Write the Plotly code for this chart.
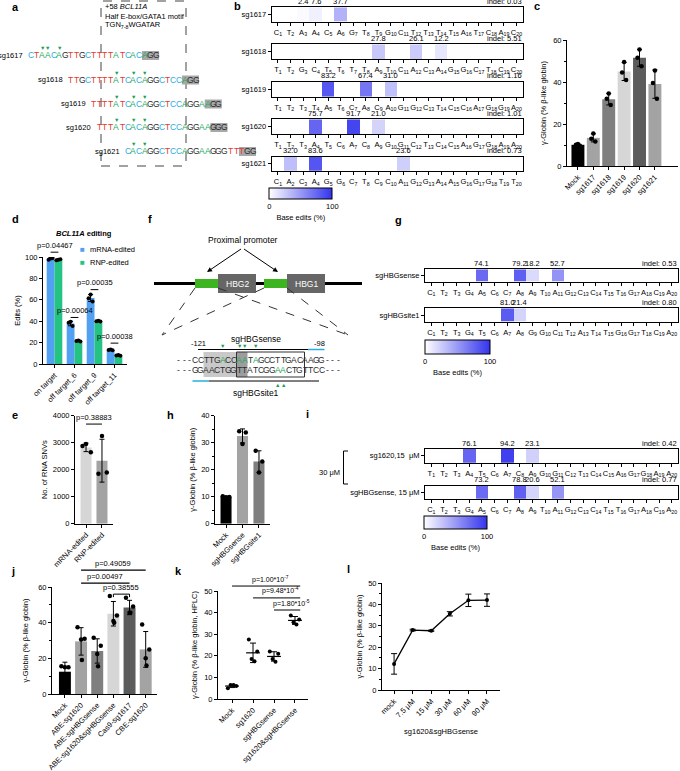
import numpy as np
import plotly.graph_objects as go

W, H = 680, 771
FONT = "Arial, Liberation Sans, sans-serif"

# ── data ────────────────────────────────────────────────────────────────
# a / b : +58 BCL11A guides
A_NAMES = ["sg1617", "sg1618", "sg1619", "sg1620", "sg1621"]
A_SEQS = ["CTAACAGTTGCTTTTATCACAGG", "TTGCTTTTATCACAGGCTCCAGG", "TTTTATCACAGGCTCCAGGAAGG",
          "TTTATCACAGGCTCCAGGAAGGG", "CACAGGCTCCAGGAAGGGTTTGG"]
A_SHIFT = [0, 7, 11, 12, 17]
A_ARROWS = [[3, 4, 6], [9, 12, 14], [5, 8, 10], [4, 7, 9], [2, 4]]

B_EDITS = [
    [0, 0, 2.4, 7.6, 0, 37.7, 0, 0, 0, 0, 0, 0, 0, 0, 0, 0, 0, 0, 0, 0],
    [0, 0, 0, 0, 0, 0, 0, 0, 27.8, 0, 0, 26.1, 0, 12.2, 0, 0, 0, 0, 0, 0],
    [0, 0, 0, 0, 83.2, 0, 0, 67.4, 0, 31.0, 0, 0, 0, 0, 0, 0, 0, 0, 0, 0],
    [0, 0, 0, 75.7, 0, 0, 91.7, 0, 21.0, 0, 0, 0, 0, 0, 0, 0, 0, 0, 0, 0],
    [0, 32.0, 0, 83.6, 0, 0, 0, 0, 0, 0, 23.6, 0, 0, 0, 0, 0, 0, 0, 0, 0],
]
B_INDEL = [0.03, 5.51, 1.16, 1.01, 0.73]

# g : HBG promoter guides
G_NAMES = ["sgHBGsense", "sgHBGsite1"]
G_SEQS = ["CTTGACCAATAGCCTTGACA", "CTTGTCAAGGCTATTGGTCA"]
G_EDITS = [
    [0, 0, 0, 0, 74.1, 0, 0, 79.2, 18.2, 0, 52.7, 0, 0, 0, 0, 0, 0, 0, 0, 0],
    [0, 0, 0, 0, 0, 0, 81.0, 21.4, 0, 0, 0, 0, 0, 0, 0, 0, 0, 0, 0, 0],
]
G_INDEL = [0.53, 0.80]

# i : co-delivery, 15 µM each
I_NAMES = ["sg1620,15  μM", "sgHBGsense, 15 μM"]
I_SEQS = ["TTTATCACAGGCTCCAGGAA", "CTTGACCAATAGCCTTGACA"]
I_EDITS = [
    [0, 0, 0, 76.1, 0, 0, 94.2, 0, 23.1, 0, 0, 0, 0, 0, 0, 0, 0, 0, 0, 0],
    [0, 0, 0, 0, 73.2, 0, 0, 78.8, 20.6, 0, 52.1, 0, 0, 0, 0, 0, 0, 0, 0, 0],
]
I_INDEL = [0.42, 0.77]

# c
C_CATS = ["Mock", "sg1617", "sg1618", "sg1619", "sg1620", "sg1621"]
C_REPS = [[10.5, 10.1, 9.7], [15.5, 13.0, 11.7], [34.5, 32.0, 29.0],
          [49.5, 44.5, 41.0], [55.5, 51.5, 47.5], [45.5, 39.5, 32.0]]
C_COLORS = ["#000000", "#a3a3a3", "#7f7f7f", "#d6d6d6", "#5c5c5c", "#a3a3a3"]

# d
D_CATS = ["on target", "off target_6", "off target_9", "off target_11"]
D_MRNA = [[98.5, 97.5, 99.0], [39.5, 38.5, 35.5], [65.0, 61.5, 58.5], [13.5, 13.0, 12.8]]
D_RNP = [[97.5, 97.0, 98.0], [22.0, 21.5, 21.0], [40.5, 40.0, 39.8], [8.5, 8.0, 7.6]]
D_P = ["p=0.04467", "p=0.00064", "p=0.00035", "p=0.00038"]
D_P_LEVEL = [104.5, 43.5, 69.5, 19.5]

# e
E_CATS = ["mRNA-edited", "RNP-edited"]
E_REPS = [[2950, 2880, 2650], [3250, 1850, 1900]]
E_P, E_P_LEVEL = "p=0.38883", 3690

# h
H_CATS = ["Mock", "sgHBGsense", "sgHBGsite1"]
H_REPS = [[10.2, 9.9, 9.8], [34.2, 33.8, 29.5], [27.0, 23.0, 19.0]]
H_COLORS = ["#000000", "#a3a3a3", "#7f7f7f"]

# j
J_CATS = ["Mock", "ABE-sg1620", "ABE-sgHBGsense", "ABE-sg1620&amp;sgHBGsense", "Cas9-sg1617", "CBE-sg1620"]
J_REPS = [[15.5, 15.0, 15.0, 4.5], [37.5, 31.0, 30.5, 19.0], [31.5, 27.0, 22.5, 15.5],
          [55.0, 44.0, 41.0, 40.0], [54.0, 49.0, 45.5, 45.5], [39.0, 25.0, 20.0, 16.0]]
J_COLORS = ["#000000", "#a3a3a3", "#7f7f7f", "#d6d6d6", "#5c5c5c", "#a3a3a3"]
J_P = ["p=0.49059", "p=0.00497", "p=0.38555"]
J_P_FROM = [1, 1, 3]
J_P_TO = [5, 4, 4]
J_P_LEVEL = [69.5, 62.2, 56.0]

# k
K_CATS = ["Mock", "sg1620", "sgHBGsense", "sg1620&amp;sgHBGsense"]
K_REPS = [[5.0, 6.0, 6.5, 6.5], [27.5, 22.0, 18.5, 17.5], [22.0, 21.0, 18.5, 17.3], [38.7, 36.8, 35.5, 34.5]]
K_P = ["p=1.00*10<sup>-7</sup>", "p=9.48*10<sup>-4</sup>", "p=1.80*10<sup>-5</sup>"]
K_P_FROM = [0, 1, 2]
K_P_TO = [3, 3, 3]
K_P_LEVEL = [52.3, 46.8, 41.2]

# l
L_CATS = ["mock", "7.5 μM", "15 μM", "30 μM", "60 μM", "90 μM"]
L_MEAN = [12.2, 28.0, 27.7, 35.6, 41.9, 42.0]
L_SD = [4.8, 0.4, 0.3, 1.0, 2.9, 2.9]

# f : HBG promoter sequence
F_TOP = "---CCTTGACCAATAGCCTTGACAAGG---"
F_BOT = "---GGAACTGGTTATCGGAACTGTTCC---"
F_TOP_GREEN = [8, 11, 12, 14]
F_BOT_GREEN = [18, 19]

BASE_COLORS = {"A": "#1ea85a", "C": "#27aee0", "G": "#2b2b2b", "T": "#e8362d"}
ARROW_GREEN = "#1d9e52"
SCALE = [[0, "#ffffff"], [1, "#3434ee"]]

# ── helpers ──────────────────────────────────────────────────────────────
fig = go.Figure()
shapes, annotations, axes = [], [], {}


def px(x):
    return x / W


def py(y):
    return 1 - y / H


def text(x, y, s, size=7.5, color="black", xa="center", ya="middle", angle=0):
    annotations.append(dict(x=px(x), y=py(y), xref="paper", yref="paper", text=s, showarrow=False,
                            font=dict(size=size, color=color, family=FONT), xanchor=xa, yanchor=ya,
                            textangle=angle, borderpad=0))


def rect(x0, y0, x1, y1, fill="rgba(0,0,0,0)", line_color=None, width=1, dash=None, layer="below"):
    shapes.append(dict(type="rect", xref="paper", yref="paper", x0=px(x0), x1=px(x1), y0=py(y1), y1=py(y0),
                       fillcolor=fill, layer=layer,
                       line=dict(color=line_color or "rgba(0,0,0,0)", width=width if line_color else 0, dash=dash)))


def seg(x0, y0, x1, y1, color="black", width=1, dash=None):
    shapes.append(dict(type="line", xref="paper", yref="paper", x0=px(x0), y0=py(y0), x1=px(x1), y1=py(y1),
                       line=dict(color=color, width=width, dash=dash)))


BASE_AX = dict(showgrid=False, zeroline=False, showline=True, linecolor="black", linewidth=1,
               ticks="outside", ticklen=3, tickcolor="black", tickwidth=1, fixedrange=True,
               tickfont=dict(size=7.5, family=FONT, color="black"))


class Frame:
    """A subplot placed by pixel box; converts data values to pixels."""
    count = 0

    def __init__(self, x0, x1, ybot, ytop, xr, yr, xopt, yopt):
        Frame.count += 1
        n = Frame.count
        sx = "" if n == 1 else str(n)
        self.x0, self.x1, self.ybot, self.ytop, self.xr, self.yr = x0, x1, ybot, ytop, xr, yr
        self.xa, self.ya = "x" + sx, "y" + sx
        axes["xaxis" + sx] = {**BASE_AX, "domain": [px(x0), px(x1)], "range": list(xr), "anchor": self.ya, **xopt}
        axes["yaxis" + sx] = {**BASE_AX, "domain": [py(ybot), py(ytop)], "range": list(yr), "anchor": self.xa, **yopt}

    def X(self, v):
        return self.x0 + (v - self.xr[0]) / (self.xr[1] - self.xr[0]) * (self.x1 - self.x0)

    def Y(self, v):
        return self.ybot - (v - self.yr[0]) / (self.yr[1] - self.yr[0]) * (self.ybot - self.ytop)


def heat_row(name, seq, edits, indel, x0, x1, ytop, ybot, cax):
    fr = Frame(x0, x1, ybot, ytop, (-0.5, 19.5), (-0.5, 0.5),
               dict(tickmode="array", tickvals=list(range(20)), tickangle=0,
                    ticktext=[f"{b}<sub>{i + 1}</sub>" for i, b in enumerate(seq)], mirror=True),
               dict(tickmode="array", tickvals=[0], ticktext=[name], mirror=True))
    fig.add_trace(go.Heatmap(z=[edits], x=list(range(20)), y=[0], coloraxis=cax,
                             xaxis=fr.xa, yaxis=fr.ya, hoverinfo="skip"))
    for i, v in enumerate(edits):
        if v > 0:
            text(fr.X(i), ytop - 0.5, f"{v:.1f}", ya="bottom")
    text(x1, ytop - 0.5, f"indel: {indel:.2f}", xa="right", ya="bottom")


def cbar(x0, x1, ytop, ybot):
    return dict(orientation="h", x=px(x0), xanchor="left", y=py(ytop), yanchor="top",
                len=x1 - x0, lenmode="pixels", thickness=ybot - ytop, thicknessmode="pixels",
                outlinewidth=1, outlinecolor="black", tickvals=[0, 100], ticks="", xpad=0, ypad=0,
                tickfont=dict(size=7.5, family=FONT, color="black"),
                title=dict(text="Base edits (%)", side="bottom", font=dict(size=7.5, family=FONT, color="black")))


def bars(fr, pos, reps, colors, width, offset=None):
    means = [float(np.mean(r)) for r in reps]
    sds = [float(np.std(r, ddof=1)) for r in reps]
    fig.add_trace(go.Bar(x=pos, y=means, width=width, offset=-width / 2 if offset is None else offset,
                         marker=dict(color=colors, line=dict(width=0)),
                         error_y=dict(type="data", array=sds, color="black", thickness=1, width=2.5),
                         xaxis=fr.xa, yaxis=fr.ya, hoverinfo="skip"))


def dots(fr, pos, reps, jitter, size=4.5):
    xs, ys = [], []
    for p, r in zip(pos, reps):
        for j, v in enumerate(r):
            xs.append(p + jitter[j % len(jitter)])
            ys.append(v)
    fig.add_trace(go.Scatter(x=xs, y=ys, mode="markers", marker=dict(size=size, color="black"),
                             xaxis=fr.xa, yaxis=fr.ya, hoverinfo="skip"))


def ytitle(s, standoff):
    return dict(text=s, standoff=standoff, font=dict(size=7.5, family=FONT, color="black"))


def cat_x(cats):
    return dict(tickmode="array", tickvals=list(range(len(cats))), ticktext=cats, tickangle=-45)


def panel_label(x, y, s):
    text(x, y, f"<b>{s}</b>", size=11)


# ── a : sequence alignment ──────────────────────────────────────────────
panel_label(15, 7, "a")
A_X0, A_PITCH = 28, 5.7
A_ROW_Y = [55.5, 80, 104, 127.5, 151.5]
rect(101, 1, 186, 166, line_color="#444444", dash="dash")
text(104, 7, "+58 <i>BCL11A</i>", xa="left")
text(104, 16, "Half E-box/GATA1 motif", xa="left")
text(104, 25.5, "TGN<sub>7-8</sub>WGATAR", xa="left")
for name, seq, shift, arrows, y in zip(A_NAMES, A_SEQS, A_SHIFT, A_ARROWS, A_ROW_Y):
    x0 = A_X0 + shift * A_PITCH
    n = len(seq)
    rect(x0 + (n - 3) * A_PITCH, y - 4.5, x0 + n * A_PITCH, y + 4.5, fill="#a8a8a8")
    for i, ch in enumerate(seq):
        text(x0 + (i + 0.5) * A_PITCH, y, ch, size=8.5, color=BASE_COLORS[ch])
    for p in arrows:
        text(x0 + (p - 0.5) * A_PITCH, y - 7.5, "▼", size=5.5, color=ARROW_GREEN)
    text(x0 - 4, y, name, xa="right")

# ── b : base editing heatmaps ────────────────────────────────────────────
panel_label(237, 6, "b")
B_BOX = [(7.3, 21.7), (44.3, 59), (81.7, 96.7), (119.3, 134), (156.7, 171)]
for name, seq, ed, ind, (yt, yb) in zip(A_NAMES, A_SEQS, B_EDITS, B_INDEL, B_BOX):
    heat_row(name, seq[:20], ed, ind, 271.7, 522.7, yt, yb, "coloraxis")

# ── g ───────────────────────────────────────────────────────────────────
panel_label(398, 220, "g")
G_BOX = [(269.3, 281.7), (308.3, 321.7)]
for name, seq, ed, ind, (yt, yb) in zip(G_NAMES, G_SEQS, G_EDITS, G_INDEL, G_BOX):
    heat_row(name, seq, ed, ind, 425, 678, yt, yb, "coloraxis2")

# ── i ───────────────────────────────────────────────────────────────────
panel_label(307, 414, "i")
I_BOX = [(449, 462.7), (485.7, 499)]
for name, seq, ed, ind, (yt, yb) in zip(I_NAMES, I_SEQS, I_EDITS, I_INDEL, I_BOX):
    heat_row(name, seq, ed, ind, 425, 678, yt, yb, "coloraxis3")
seg(348, 451, 343.5, 451)
seg(343.5, 451, 343.5, 484)
seg(343.5, 484, 348, 484)
text(329, 472, "30 μM")

# ── c ───────────────────────────────────────────────────────────────────
panel_label(537, 6, "c")
fc = Frame(567, 678, 166, 40, (-0.71, 6.5), (0, 60), cat_x(C_CATS),
           dict(tick0=0, dtick=20, minor=dict(ticks="outside", ticklen=2, dtick=10, tickcolor="black"),
                title=ytitle("γ-Globin (% β-like globin)", 5)))
pos = list(range(len(C_CATS)))
bars(fc, pos, C_REPS, C_COLORS, 0.84)
dots(fc, pos, C_REPS, [0.0, -0.13, 0.13])

# ── d ───────────────────────────────────────────────────────────────────
panel_label(15, 219, "d")
fd = Frame(43, 127, 364, 257, (-0.575, 3.625), (0, 100), cat_x(D_CATS),
           dict(tick0=0, dtick=20, title=ytitle("Edits (%)", 3)))
pos = list(range(len(D_CATS)))
bw = 0.39
bars(fd, pos, D_MRNA, "#52a0f2", bw, offset=-bw)
bars(fd, pos, D_RNP, "#24c384", bw, offset=0)
dots(fd, [p - bw / 2 for p in pos], D_MRNA, [0.0, -0.1, 0.1], size=4)
dots(fd, [p + bw / 2 for p in pos], D_RNP, [0.0, -0.1, 0.1], size=4)
for i, (s, lv) in enumerate(zip(D_P, D_P_LEVEL)):
    seg(fd.X(i - bw / 2), fd.Y(lv), fd.X(i + bw / 2), fd.Y(lv))
    text(fd.X(i), fd.Y(lv) - 1.5, s, ya="bottom")
text(84, 233, "<b><i>BCL11A</i> editing</b>")
text(82, 250, "■", size=8, color="#52a0f2")
text(89, 250, "mRNA-edited", xa="left")
text(82, 262, "■", size=8, color="#24c384")
text(89, 262, "RNP-edited", xa="left")

# ── e ───────────────────────────────────────────────────────────────────
panel_label(15, 415, "e")
fe = Frame(75, 113, 523.7, 415.7, (-0.69, 1.69), (0, 4000), cat_x(E_CATS),
           dict(tick0=0, dtick=1000, title=ytitle("No. of RNA SNVs", 4)))
pos = [0, 1]
bars(fe, pos, E_REPS, ["#d6d6d6", "#a3a3a3"], 0.69)
dots(fe, pos, E_REPS, [0.0, -0.22, 0.3])
seg(fe.X(0), fe.Y(E_P_LEVEL), fe.X(1), fe.Y(E_P_LEVEL))
text(fe.X(0.5), fe.Y(E_P_LEVEL) - 1.5, E_P, ya="bottom")

# ── f : schematic ───────────────────────────────────────────────────────
panel_label(150, 219, "f")
text(242.5, 240, "Proximal promoter", size=8.5)
for hx in (207, 278):
    annotations.append(dict(x=px(hx), y=py(272), xref="paper", yref="paper", ax=242.5 - hx, ay=-24,
                            text="", showarrow=True, arrowhead=2, arrowsize=1, arrowwidth=1,
                            arrowcolor="black"))
seg(154, 283.5, 362, 283.5, width=3)
for gx0, hx0, lab in ((195, 218, "HBG2"), (264, 287, "HBG1")):
    rect(gx0, 279, gx0 + 23, 288, fill="#3cb521", layer="above")
    rect(hx0, 274, hx0 + 38, 293, fill="#666666", layer="above")
    text(hx0 + 19, 283.5, lab, size=8.5, color="white")
    seg(gx0, 288, 162, 335, color="#333333", dash="dash")
    seg(gx0 + 23, 288, 348, 335, color="#333333", dash="dash")

F_X0, F_PITCH = 176, 5.5
fxc = [F_X0 + (i + 0.5) * F_PITCH for i in range(len(F_TOP))]
fxe = [F_X0 + i * F_PITCH for i in range(len(F_TOP) + 1)]
rect(fxe[5], 352, fxe[11], 377, fill="#c9c9c9")
rect(fxe[11], 352, fxe[13], 377, fill="#9d9d9d")
rect(fxe[11], 352, fxe[23] + 2, 377, line_color="#333333", width=1)
for i, ch in enumerate(F_TOP):
    text(fxc[i], 359.5, ch, size=8.5, color=BASE_COLORS["A"] if i in F_TOP_GREEN else "#2b2b2b")
for i, ch in enumerate(F_BOT):
    text(fxc[i], 369.5, ch, size=8.5, color=BASE_COLORS["A"] if i in F_BOT_GREEN else "#2b2b2b")
seg(fxe[4], 349.5, fxe[24], 349.5)
seg(fxe[24], 349.5, fxe[27], 349.5, color="#27aee0", width=1.5)
seg(fxe[3], 381, fxe[6], 381, color="#27aee0", width=1.5)
seg(fxe[6], 381, fxe[26], 381)
for i in F_TOP_GREEN:
    text(fxc[i], 346.5, "▼", size=5.5, color=ARROW_GREEN)
for i in F_BOT_GREEN:
    text(fxc[i], 384.5, "▲", size=5.5, color=ARROW_GREEN)
text(fxe[4], 343, "-121")
text(fxe[26], 343, "-98")
text(256, 338.5, "sgHBGsense", size=8.5)
text(256, 393, "sgHBGsite1", size=8.5)

# ── h ───────────────────────────────────────────────────────────────────
panel_label(170, 415, "h")
fh = Frame(215, 270, 523.7, 415.7, (-0.67, 2.67), (0, 40), cat_x(H_CATS),
           dict(tick0=0, dtick=10, minor=dict(ticks="outside", ticklen=2, dtick=5, tickcolor="black"),
                title=ytitle("γ-Globin (% β-like globin)", 4)))
pos = [0, 1, 2]
bars(fh, pos, H_REPS, H_COLORS, 0.67)
dots(fh, pos, H_REPS, [-0.2, 0.2, 0.0])

# ── j ───────────────────────────────────────────────────────────────────
panel_label(13, 571, "j")
fj = Frame(52, 157, 694, 587, (-0.8, 5.7), (0, 60), cat_x(J_CATS),
           dict(tick0=0, dtick=20, minor=dict(ticks="outside", ticklen=2, dtick=10, tickcolor="black"),
                title=ytitle("γ-Globin (% β-like globin)", 8)))
pos = list(range(len(J_CATS)))
bars(fj, pos, J_REPS, J_COLORS, 0.74)
dots(fj, pos, J_REPS, [-0.22, 0.22, 0.0, 0.05])
for s, a, b, lv in zip(J_P, J_P_FROM, J_P_TO, J_P_LEVEL):
    y = fj.Y(lv)
    seg(fj.X(a), y, fj.X(b), y, width=1.2 if b != 4 or a != 3 else 1)
    text(fj.X((a + b) / 2), y - 1.5, s, ya="bottom")
y = fj.Y(J_P_LEVEL[2])
seg(fj.X(3), y, fj.X(3), y + 3)
seg(fj.X(4), y, fj.X(4), y + 3)

# ── k ───────────────────────────────────────────────────────────────────
panel_label(178, 571, "k")
fk = Frame(218, 308, 699, 591, (-0.67, 3.62), (0, 50), cat_x(K_CATS),
           dict(tick0=0, dtick=10, title=ytitle("γ-Globin (% β-like globin, HPLC)", 5)))
pos = list(range(len(K_CATS)))
dots(fk, pos, K_REPS, [-0.2, 0.2, -0.07, 0.07], size=4)
means = [float(np.mean(r)) for r in K_REPS]
sds = [float(np.std(r, ddof=1)) for r in K_REPS]
mx, my = [], []
for p, m in zip(pos, means):
    mx += [p - 0.33, p + 0.33, None]
    my += [m, m, None]
fig.add_trace(go.Scatter(x=mx, y=my, mode="lines", line=dict(color="black", width=1.2),
                         xaxis=fk.xa, yaxis=fk.ya, hoverinfo="skip"))
fig.add_trace(go.Scatter(x=pos, y=means, mode="markers", marker=dict(size=1, color="rgba(0,0,0,0)"),
                         error_y=dict(type="data", array=sds, color="black", thickness=1, width=3),
                         xaxis=fk.xa, yaxis=fk.ya, hoverinfo="skip"))
for s, a, b, lv in zip(K_P, K_P_FROM, K_P_TO, K_P_LEVEL):
    y = fk.Y(lv)
    seg(fk.X(a), y, fk.X(b + 0.25), y)
    text(fk.X((a + b + 0.25) / 2) + 4, y - 1.5, s, size=7, ya="bottom")

# ── l ───────────────────────────────────────────────────────────────────
panel_label(348, 569, "l")
fl = Frame(382, 500, 690, 583, (-0.65, 5.7), (0, 50),
           {**cat_x(L_CATS), "title": dict(text="sg1620&amp;sgHBGsense", standoff=10,
                                           font=dict(size=7.5, family=FONT, color="black"))},
           dict(tick0=0, dtick=10, minor=dict(ticks="outside", ticklen=2, dtick=5, tickcolor="black"),
                title=ytitle("γ-Globin (% β-like globin)", 4)))
fig.add_trace(go.Scatter(x=list(range(len(L_CATS))), y=L_MEAN, mode="lines+markers",
                         line=dict(color="black", width=1.3), marker=dict(size=4, color="black"),
                         error_y=dict(type="data", array=L_SD, color="black", thickness=1, width=3),
                         xaxis=fl.xa, yaxis=fl.ya, hoverinfo="skip"))

# ── layout ──────────────────────────────────────────────────────────────
fig.update_traces(showlegend=False)
fig.update_layout(
    width=W, height=H, margin=dict(l=0, r=0, t=0, b=0, autoexpand=False),
    paper_bgcolor="white", plot_bgcolor="white", showlegend=False,
    font=dict(family=FONT, size=7.5, color="black"),
    coloraxis=dict(cmin=0, cmax=100, colorscale=SCALE, colorbar=cbar(269.3, 332.3, 188.3, 199)),
    coloraxis2=dict(cmin=0, cmax=100, colorscale=SCALE, colorbar=cbar(425, 490, 340, 354)),
    coloraxis3=dict(cmin=0, cmax=100, colorscale=SCALE, colorbar=cbar(424, 486.7, 516, 529.3)),
    shapes=shapes, annotations=annotations,
    **axes,
)
# drop the page's default body margin so the 680x771 figure fills the window exactly
fig.write_html("out.html", config={"displayModeBar": False},
               post_script="document.body.style.margin='0px';")
